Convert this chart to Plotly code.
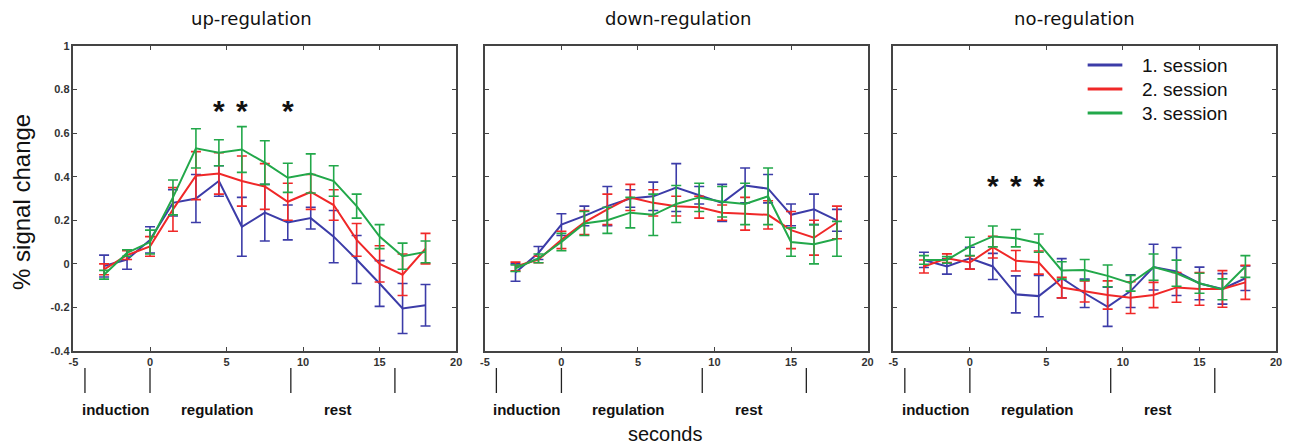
import plotly.graph_objects as go

# ---------------- data ----------------
time = [-3, -1.5, 0, 1.5, 3, 4.5, 6, 7.5, 9, 10.5, 12, 13.5, 15, 16.5, 18]

up_s1 = [-0.01, 0.02, 0.11, 0.28, 0.30, 0.38, 0.17, 0.235, 0.19, 0.21, 0.125, 0.02, -0.09, -0.205, -0.19]
up_s1_err = [0.05, 0.045, 0.06, 0.06, 0.11, 0.07, 0.135, 0.13, 0.08, 0.05, 0.12, 0.11, 0.105, 0.115, 0.095]
up_s2 = [-0.025, 0.04, 0.08, 0.25, 0.405, 0.415, 0.38, 0.355, 0.285, 0.33, 0.27, 0.11, 0.0, -0.05, 0.07]
up_s2_err = [0.025, 0.02, 0.045, 0.1, 0.11, 0.095, 0.115, 0.105, 0.085, 0.08, 0.07, 0.075, 0.083, 0.095, 0.07]
up_s3 = [-0.05, 0.05, 0.1, 0.305, 0.53, 0.51, 0.525, 0.465, 0.395, 0.415, 0.38, 0.265, 0.125, 0.035, 0.055]
up_s3_err = [0.02, 0.015, 0.055, 0.08, 0.09, 0.06, 0.105, 0.1, 0.067, 0.09, 0.07, 0.055, 0.055, 0.06, 0.05]

down_s1 = [-0.04, 0.05, 0.18, 0.22, 0.265, 0.30, 0.31, 0.35, 0.315, 0.28, 0.36, 0.345, 0.225, 0.25, 0.2]
down_s1_err = [0.04, 0.03, 0.05, 0.045, 0.09, 0.04, 0.065, 0.11, 0.04, 0.085, 0.08, 0.065, 0.05, 0.07, 0.05]
down_s2 = [-0.012, 0.02, 0.11, 0.19, 0.25, 0.305, 0.28, 0.265, 0.26, 0.235, 0.23, 0.225, 0.155, 0.12, 0.19]
down_s2_err = [0.02, 0.015, 0.04, 0.055, 0.07, 0.06, 0.06, 0.045, 0.05, 0.035, 0.075, 0.065, 0.085, 0.08, 0.075]
down_s3 = [-0.02, 0.025, 0.1, 0.185, 0.2, 0.235, 0.225, 0.275, 0.305, 0.285, 0.275, 0.31, 0.1, 0.09, 0.115]
down_s3_err = [0.015, 0.02, 0.04, 0.055, 0.06, 0.07, 0.095, 0.085, 0.065, 0.07, 0.095, 0.13, 0.065, 0.09, 0.08]

no_s1 = [0.018, -0.012, 0.026, -0.012, -0.14, -0.148, -0.066, -0.135, -0.197, -0.125, -0.015, -0.035, -0.09, -0.115, -0.066]
no_s1_err = [0.035, 0.035, 0.05, 0.06, 0.085, 0.095, 0.09, 0.065, 0.09, 0.075, 0.105, 0.11, 0.075, 0.07, 0.056]
no_s2 = [-0.012, 0.026, 0.006, 0.077, 0.014, 0.006, -0.109, -0.127, -0.143, -0.155, -0.143, -0.108, -0.115, -0.115, -0.085]
no_s2_err = [0.03, 0.02, 0.03, 0.05, 0.047, 0.053, 0.047, 0.048, 0.065, 0.073, 0.058, 0.068, 0.075, 0.084, 0.078]
no_s3 = [0.018, 0.018, 0.08, 0.126, 0.118, 0.095, -0.03, -0.028, -0.055, -0.089, -0.015, -0.043, -0.089, -0.117, -0.012]
no_s3_err = [0.02, 0.015, 0.042, 0.048, 0.04, 0.042, 0.04, 0.048, 0.05, 0.036, 0.06, 0.06, 0.046, 0.048, 0.05]

panel_titles = ["up-regulation", "down-regulation", "no-regulation"]
session_names = ["1. session", "2. session", "3. session"]

star_up_x = [4.5, 6, 9]
star_up_y = [0.74, 0.74, 0.74]
star_no_x = [1.5, 3, 4.5]
star_no_y = [0.395, 0.395, 0.395]

phase_bounds = [-4.25, 0, 9.2, 16]
phase_labels = ["induction", "regulation", "rest"]
phase_label_x = [-2.23, 4.4, 12.27]

x_ticks = [-5, 0, 5, 10, 15, 20]
x_ticktext = ["-5", "0", "5", "10", "15", "20"]
y_ticks = [-0.4, -0.2, 0, 0.2, 0.4, 0.6, 0.8, 1]
y_ticktext = ["-0.4", "-0.2", "0", "0.2", "0.4", "0.6", "0.8", "1"]

# ---------------- styling ----------------
OFF = 8                      # default page body margin around the figure
W, H = 1292 - 2 * OFF, 448 - OFF
colors = ["#3c3ca8", "#f02828", "#22a84a"]
panel_px = [(69, 455), (484, 870), (896, 1282)]
top_px, bot_px = 46, 351     # plot area in window pixels
PH = bot_px - top_px


def px_x(px):
    return (px - OFF) / W


def px_y(py):
    return (bot_px - py) / PH


panels = [
    [(up_s1, up_s1_err), (up_s2, up_s2_err), (up_s3, up_s3_err)],
    [(down_s1, down_s1_err), (down_s2, down_s2_err), (down_s3, down_s3_err)],
    [(no_s1, no_s1_err), (no_s2, no_s2_err), (no_s3, no_s3_err)],
]

fig = go.Figure()
for p, series in enumerate(panels):
    xa = "x" if p == 0 else f"x{p+1}"
    ya = "y" if p == 0 else f"y{p+1}"
    for s, (vals, errs) in enumerate(series):
        fig.add_trace(go.Scatter(
            x=time, y=vals, mode="lines",
            line=dict(color=colors[s], width=2),
            error_y=dict(type="data", array=errs, visible=True,
                         color=colors[s], thickness=1.6, width=5),
            name=session_names[s], showlegend=False, xaxis=xa, yaxis=ya,
        ))

tick_font = dict(family="Liberation Sans, Arial, sans-serif", size=11, color="#333333", weight="bold")
axis_common = dict(showline=True, linecolor="#444444", linewidth=1.5, mirror="ticks",
                   ticks="inside", ticklen=4, tickwidth=1.3, tickcolor="#444444",
                   showgrid=False, zeroline=False, tickfont=tick_font)

for p, (l, r) in enumerate(panel_px):
    xk = "xaxis" if p == 0 else f"xaxis{p+1}"
    yk = "yaxis" if p == 0 else f"yaxis{p+1}"
    fig.update_layout(**{
        xk: dict(domain=[px_x(l), px_x(r)], range=[-5, 20], tickvals=x_ticks, ticktext=x_ticktext,
                 anchor="y" if p == 0 else f"y{p+1}", **axis_common),
        yk: dict(domain=[0, 1], range=[-0.4, 1], tickvals=y_ticks, ticktext=y_ticktext,
                 showticklabels=(p == 0),
                 anchor="x" if p == 0 else f"x{p+1}", **axis_common),
    })

annotations = []
shapes = []
title_cx = [249, 679, 1079]
for p in range(3):
    annotations.append(dict(text=panel_titles[p], xref="paper", yref="paper",
                            x=px_x(title_cx[p]), y=px_y(19),
                            xanchor="center", yanchor="middle", showarrow=False,
                            font=dict(family="DejaVu Sans, sans-serif", size=18, color="#111111")))
    xr = "x" if p == 0 else f"x{p+1}"
    for b in phase_bounds:
        shapes.append(dict(type="line", xref=xr, yref="paper", x0=b, x1=b,
                           y0=px_y(368), y1=px_y(393),
                           line=dict(color="#222222", width=1.3)))
    for lab, lx in zip(phase_labels, phase_label_x):
        annotations.append(dict(text=f"<b>{lab}</b>", xref=xr, yref="paper", x=lx,
                                y=px_y(409),
                                xanchor="center", yanchor="middle", showarrow=False,
                                font=dict(family="Liberation Sans Narrow, Arial Narrow, Liberation Sans, sans-serif",
                                          size=15, color="#111111")))

for sx, sy in zip(star_up_x, star_up_y):
    annotations.append(dict(text="<b>*</b>", xref="x", yref="y", x=sx, y=sy,
                            xanchor="center", yanchor="middle", showarrow=False, yshift=-8,
                            font=dict(family="Liberation Sans, Arial", size=30, color="#111111")))
for sx, sy in zip(star_no_x, star_no_y):
    annotations.append(dict(text="<b>*</b>", xref="x3", yref="y3", x=sx, y=sy,
                            xanchor="center", yanchor="middle", showarrow=False, yshift=-8,
                            font=dict(family="Liberation Sans, Arial", size=30, color="#111111")))

# legend (drawn in panel 3, upper right)
legend_rows_y = [65, 89, 113]
for s in range(3):
    shapes.append(dict(type="line", xref="paper", yref="paper",
                       x0=px_x(1092), x1=px_x(1127), y0=px_y(legend_rows_y[s]), y1=px_y(legend_rows_y[s]),
                       line=dict(color=colors[s], width=3)))
    annotations.append(dict(text=session_names[s], xref="paper", yref="paper",
                            x=px_x(1145), y=px_y(legend_rows_y[s]),
                            xanchor="left", yanchor="middle", showarrow=False,
                            font=dict(family="Liberation Sans, Arial, sans-serif", size=19, color="#111111")))

annotations.append(dict(text="% signal change", xref="paper", yref="paper",
                        x=px_x(16), y=px_y(202), textangle=-90,
                        xanchor="center", yanchor="middle", showarrow=False,
                        font=dict(family="Liberation Sans, Arial, sans-serif", size=24, color="#111111")))
annotations.append(dict(text="seconds", xref="paper", yref="paper",
                        x=px_x(666), y=px_y(434),
                        xanchor="center", yanchor="middle", showarrow=False,
                        font=dict(family="Liberation Sans, Arial, sans-serif", size=20, color="#111111")))

fig.update_layout(
    width=W, height=H,
    margin=dict(l=0, r=0, t=top_px - OFF, b=H - (bot_px - OFF), pad=0),
    paper_bgcolor="white", plot_bgcolor="white",
    annotations=annotations, shapes=shapes,
    showlegend=False,
)

fig.write_html("out.html")
